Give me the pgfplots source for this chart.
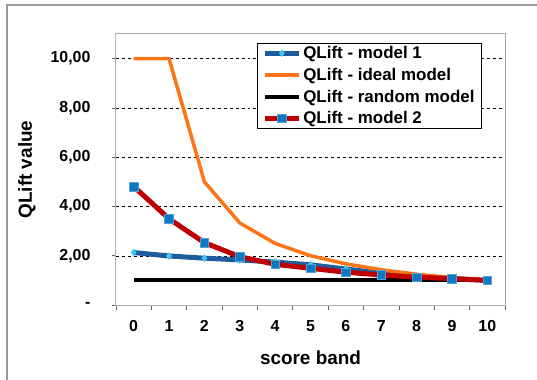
\documentclass[border=0pt]{standalone}
\usepackage{fontspec}
\setmainfont{Liberation Sans}
\usepackage{pgfplots}
\pgfplotsset{compat=1.18}
\usetikzlibrary{calc}

\definecolor{mblue}{HTML}{1F5C9E}
\definecolor{mcyan}{HTML}{40C8F5}
\definecolor{morange}{HTML}{FF7417}
\definecolor{mred}{HTML}{C00000}
\definecolor{msq}{HTML}{0B78C2}

\begin{document}
\begin{tikzpicture}[x=1bp,y=1bp]
\begin{axis}[
    name=ax,
    scale only axis,
    width=389bp, height=271bp,
    xmin=-0.5, xmax=10.5,
    ymin=0, ymax=11,
    xtick={0,1,2,3,4,5,6,7,8,9,10},
    xticklabels={0,1,2,3,4,5,6,7,8,9,10},
    minor xtick={-0.5,0.5,1.5,2.5,3.5,4.5,5.5,6.5,7.5,8.5,9.5,10.5},
    major x tick style={draw=none},
    minor tick length=5bp,
    ytick={0,2,4,6,8,10},
    yticklabels={-,{2,00},{4,00},{6,00},{8,00},{10,00}},
    major tick length=4bp,
    tick align=outside,
    xtick pos=bottom, ytick pos=left,
    tick style={gray!80!black, line width=0.8bp},
    ymajorgrids=true,
    grid style={black, dashed, line width=0.4bp},
    axis line style={gray!60, line width=1bp},
    ticklabel style={font=\bfseries\fontsize{16}{16}\selectfont},
    xticklabel style={yshift=-8bp},
    yticklabel style={xshift=-18bp},
    xlabel={score band},
    ylabel={QLift value},
    every axis x label/.style={at={(axis description cs:0.5,-0.196)},anchor=center,font=\bfseries\fontsize{19}{19}\selectfont},
    every axis y label/.style={at={(axis description cs:-0.229,0.5)},rotate=90,anchor=center,font=\bfseries\fontsize{19}{19}\selectfont},
    legend style={at={(rel axis cs:0.3625,0.967)}, anchor=north west,
        draw=black, line width=0.6bp, fill=white,
        font=\bfseries\fontsize{17}{17}\selectfont,
        inner xsep=5bp, inner ysep=1bp, row sep=4bp},
    legend cell align=left,
    legend image code/.code={
        \draw[mark repeat=2,mark phase=2] plot coordinates {(0bp,0bp) (17bp,0bp) (34bp,0bp)};},
    clip=false,
]
\addplot[mblue, line width=5bp, mark=diamond*, mark size=3.6bp,
    mark options={fill=mcyan, draw=mcyan, line width=0.3bp}]
    coordinates {(0,2.13)(1,1.99)(2,1.90)(3,1.83)(4,1.74)(5,1.63)(6,1.46)(7,1.29)(8,1.15)(9,1.07)(10,1.00)};
\addlegendentry{QLift - model 1}
\addplot[morange, line width=3.5bp]
    coordinates {(0,10)(1,10)(2,5)(3,3.33)(4,2.5)(5,2.0)(6,1.67)(7,1.43)(8,1.25)(9,1.11)(10,1.0)};
\addlegendentry{QLift - ideal model}
\addplot[black, line width=4bp]
    coordinates {(0,1)(1,1)(2,1)(3,1)(4,1)(5,1)(6,1)(7,1)(8,1)(9,1)(10,1)};
\addlegendentry{QLift - random model}
\addplot[mred, line width=5bp, mark=square*, mark size=4.3bp,
    mark options={fill=msq, draw=msq!70!white, line width=0.5bp}]
    coordinates {(0,4.81)(1,3.50)(2,2.53)(3,1.96)(4,1.65)(5,1.49)(6,1.33)(7,1.22)(8,1.13)(9,1.07)(10,1.00)};
\addlegendentry{QLift - model 2}
\end{axis}
\draw[gray!70, line width=1bp] (ax.north east) -- (ax.south east);
\draw[gray!70, line width=1bp] (ax.north west) -- (ax.north east);
\pgfresetboundingbox
\path[use as bounding box] ($(ax.south west)+(-116bp,-75bp)$) rectangle ($(ax.north east)+(32bp,34bp)$);
\draw[gray!80, line width=1.2bp] ($(ax.south west)+(-109bp,-90bp)$) -- ($(ax.north west)+(-109bp,29bp)$) -- ($(ax.north east)+(45bp,29bp)$);
\end{tikzpicture}
\end{document}
